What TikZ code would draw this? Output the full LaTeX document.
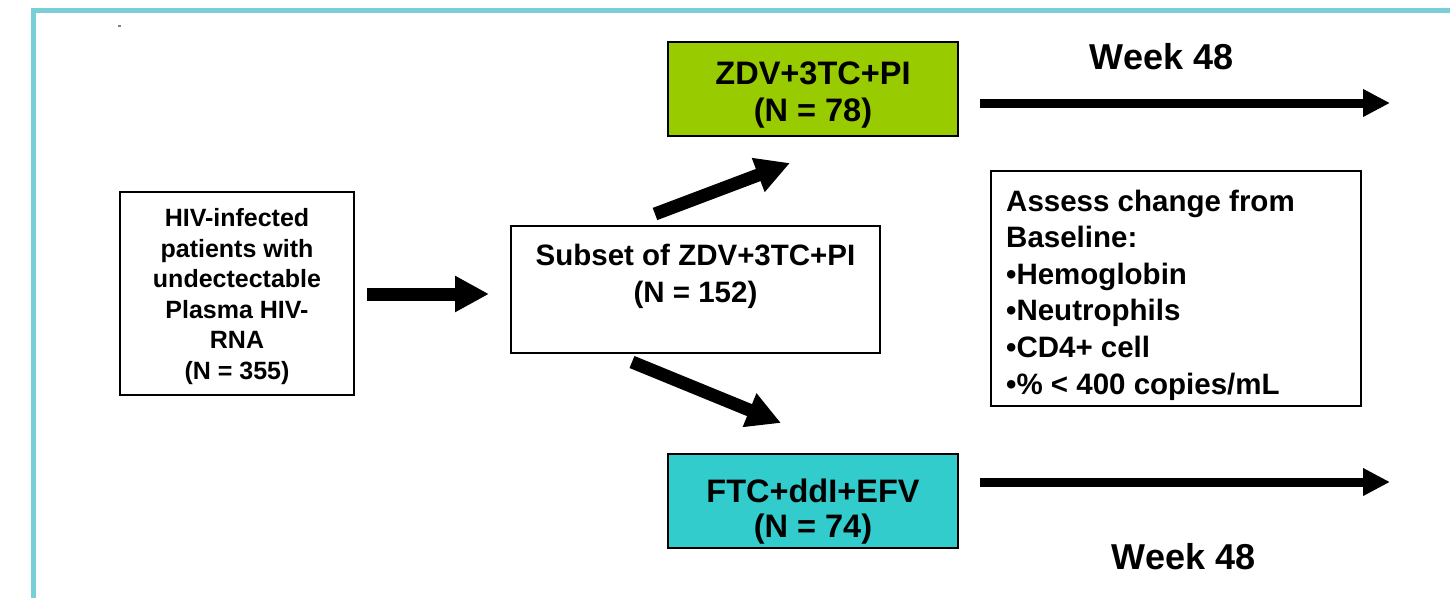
\documentclass[tikz,border=0pt]{standalone}
\usepackage{fontspec}
\setmainfont{Liberation Sans}
\usetikzlibrary{arrows.meta}
\definecolor{framecol}{RGB}{122,206,214}
\definecolor{limefill}{RGB}{153,204,0}
\definecolor{tealfill}{RGB}{51,204,204}
\begin{document}
\begin{tikzpicture}[x=1pt,y=-1pt,
  box/.style={draw=black, line width=1.3pt, inner sep=0pt, anchor=center},
  lbl/.style={align=center, inner sep=0pt, anchor=center},
  fat/.style={line width=13pt, -{Triangle[length=34pt,width=34pt]}},
  longarrow/.style={line width=9pt, -{Triangle[length=27pt,width=26pt]}}]
\useasboundingbox (0,0) rectangle (1450,597);
\clip (0,0) rectangle (1450,597);
% slide frame
\draw[framecol, line width=5pt] (33.5,640) -- (33.5,10) -- (1500,10);
\fill[gray] (118,25) rectangle (121,26.5);

% boxes
\node[box, minimum width=234pt, minimum height=203pt] (pop) at (237,293.5) {};
\node[lbl, font=\fontsize{25}{30.6}\selectfont\bfseries] (poptxt) at (237,296.5)
  {HIV-infected\\patients with\\undectectable\\Plasma HIV-\\RNA\\(N = 355)};

\node[box, minimum width=369pt, minimum height=127pt] (sub) at (695.5,289.5) {};
\node[lbl, font=\fontsize{29.5}{37}\selectfont\bfseries] (subtxt) at (695.5,276)
  {Subset of ZDV+3TC+PI\\(N = 152)};

\node[box, fill=limefill, minimum width=290pt, minimum height=94pt] (armA) at (813,89) {};
\node[lbl, font=\fontsize{32.5}{37}\selectfont\bfseries] (armAtxt) at (813,95)
  {ZDV+3TC+PI\\(N = 78)};

\node[box, fill=tealfill, minimum width=290pt, minimum height=94pt] (armB) at (813,501) {};
\node[lbl, font=\fontsize{32.5}{35}\selectfont\bfseries] (armBtxt) at (813,511.5)
  {FTC+ddI+EFV\\(N = 74)};

\node[box, minimum width=370pt, minimum height=235pt] (assess) at (1176,288.5) {};
\node[lbl, align=left, anchor=west, font=\fontsize{29.5}{36.6}\selectfont\bfseries] (assesstxt) at (1006,295)
  {Assess change from\\Baseline:\\•Hemoglobin\\•Neutrophils\\•CD4+ cell\\•\% < 400 copies/mL};

\node[lbl, font=\fontsize{36}{40}\selectfont\bfseries] (wkA) at (1161.5,57) {Week 48};
\node[lbl, font=\fontsize{36}{40}\selectfont\bfseries] (wkB) at (1183.5,557) {Week 48};

% arrows
\draw[fat] (pop.east |- 0,294) ++(12,0) coordinate (popout) -- (489,294) coordinate (subin);
\coordinate (upTail) at (655,214);
\coordinate (upTip) at (790,163);
\draw[fat] (upTail) -- (upTip);
\coordinate (dnTail) at (632,362);
\coordinate (dnTip) at (781,423);
\draw[fat] (dnTail) -- (dnTip);
\coordinate (topTail) at (980,103);
\coordinate (topTip) at (1390,103);
\draw[longarrow] (topTail) -- (topTip);
\coordinate (botTail) at (980,482);
\coordinate (botTip) at (1390,482);
\draw[longarrow] (botTail) -- (botTip);
\end{tikzpicture}
\end{document}
